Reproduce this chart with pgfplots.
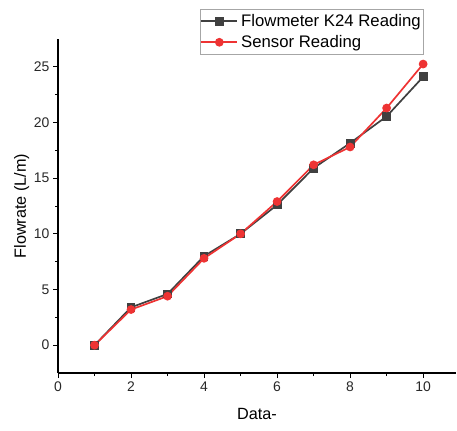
\documentclass[border=0pt]{standalone}
\usepackage{pgfplots}
\pgfplotsset{compat=1.18}
\usepackage{fontspec}
\setmainfont{Liberation Sans}
\definecolor{flowgray}{RGB}{64,64,64}
\definecolor{sensred}{RGB}{238,51,51}
\definecolor{txtgray}{RGB}{40,40,40}
\begin{document}
\begin{tikzpicture}[x=1bp,y=1bp]
\path[use as bounding box] (0,0) rectangle (457,430);
\begin{axis}[
  at={(58bp,57bp)}, anchor=south west,
  scale only axis,
  width=398bp, height=334bp,
  xmin=0, xmax=10.9,
  ymin=-2.5, ymax=27.5,
  axis lines*=left,
  axis line style={line width=1.1pt, black},
  xtick={0,2,4,6,8,10},
  ytick={0,5,10,15,20,25},
  minor x tick num=1,
  minor y tick num=1,
  tick align=outside,
  major tick length=5bp,
  minor tick length=3bp,
  tick style={line width=0.8pt, black},
  /pgf/number format/assume math mode=true,
  ticklabel style={font=\fontsize{14}{16}\selectfont, text=txtgray},
  label style={font=\fontsize{16.3}{19}\selectfont, text=black},
  xlabel={Data-},
  ylabel={Flowrate (L/m)},
  xlabel style={yshift=-10bp},
  ylabel style={yshift=-2bp},
  legend style={at={(0.357,1.090)}, anchor=north west,
    draw=gray!70, line width=0.8pt, fill=white,
    font=\fontsize{16.8}{19}\selectfont,
    inner xsep=0bp, inner ysep=2.5bp,
    row sep=2.5bp,
    nodes={inner xsep=3bp, inner ysep=2.5bp},
    cells={anchor=west}},
  legend image code/.code={
    \draw[mark repeat=2,mark phase=2] plot coordinates {(0bp,0bp) (18bp,0bp) (36bp,0bp)};},
  clip=false,
]
\addplot[color=flowgray, line width=1.7pt, mark=square*, mark size=3.6pt, mark options={solid}]
  coordinates {(1,0) (2,3.4) (3,4.6) (4,8.0) (5,10.0) (6,12.6) (7,15.9) (8,18.15) (9,20.55) (10,24.1)};
\addlegendentry{Flowmeter K24 Reading}
\addplot[color=sensred, line width=1.7pt, mark=*, mark size=3.5pt, mark options={solid}]
  coordinates {(1,0) (2,3.2) (3,4.4) (4,7.8) (5,10.0) (6,12.9) (7,16.2) (8,17.8) (9,21.3) (10,25.25)};
\addlegendentry{Sensor Reading}
\end{axis}
\end{tikzpicture}
\end{document}
